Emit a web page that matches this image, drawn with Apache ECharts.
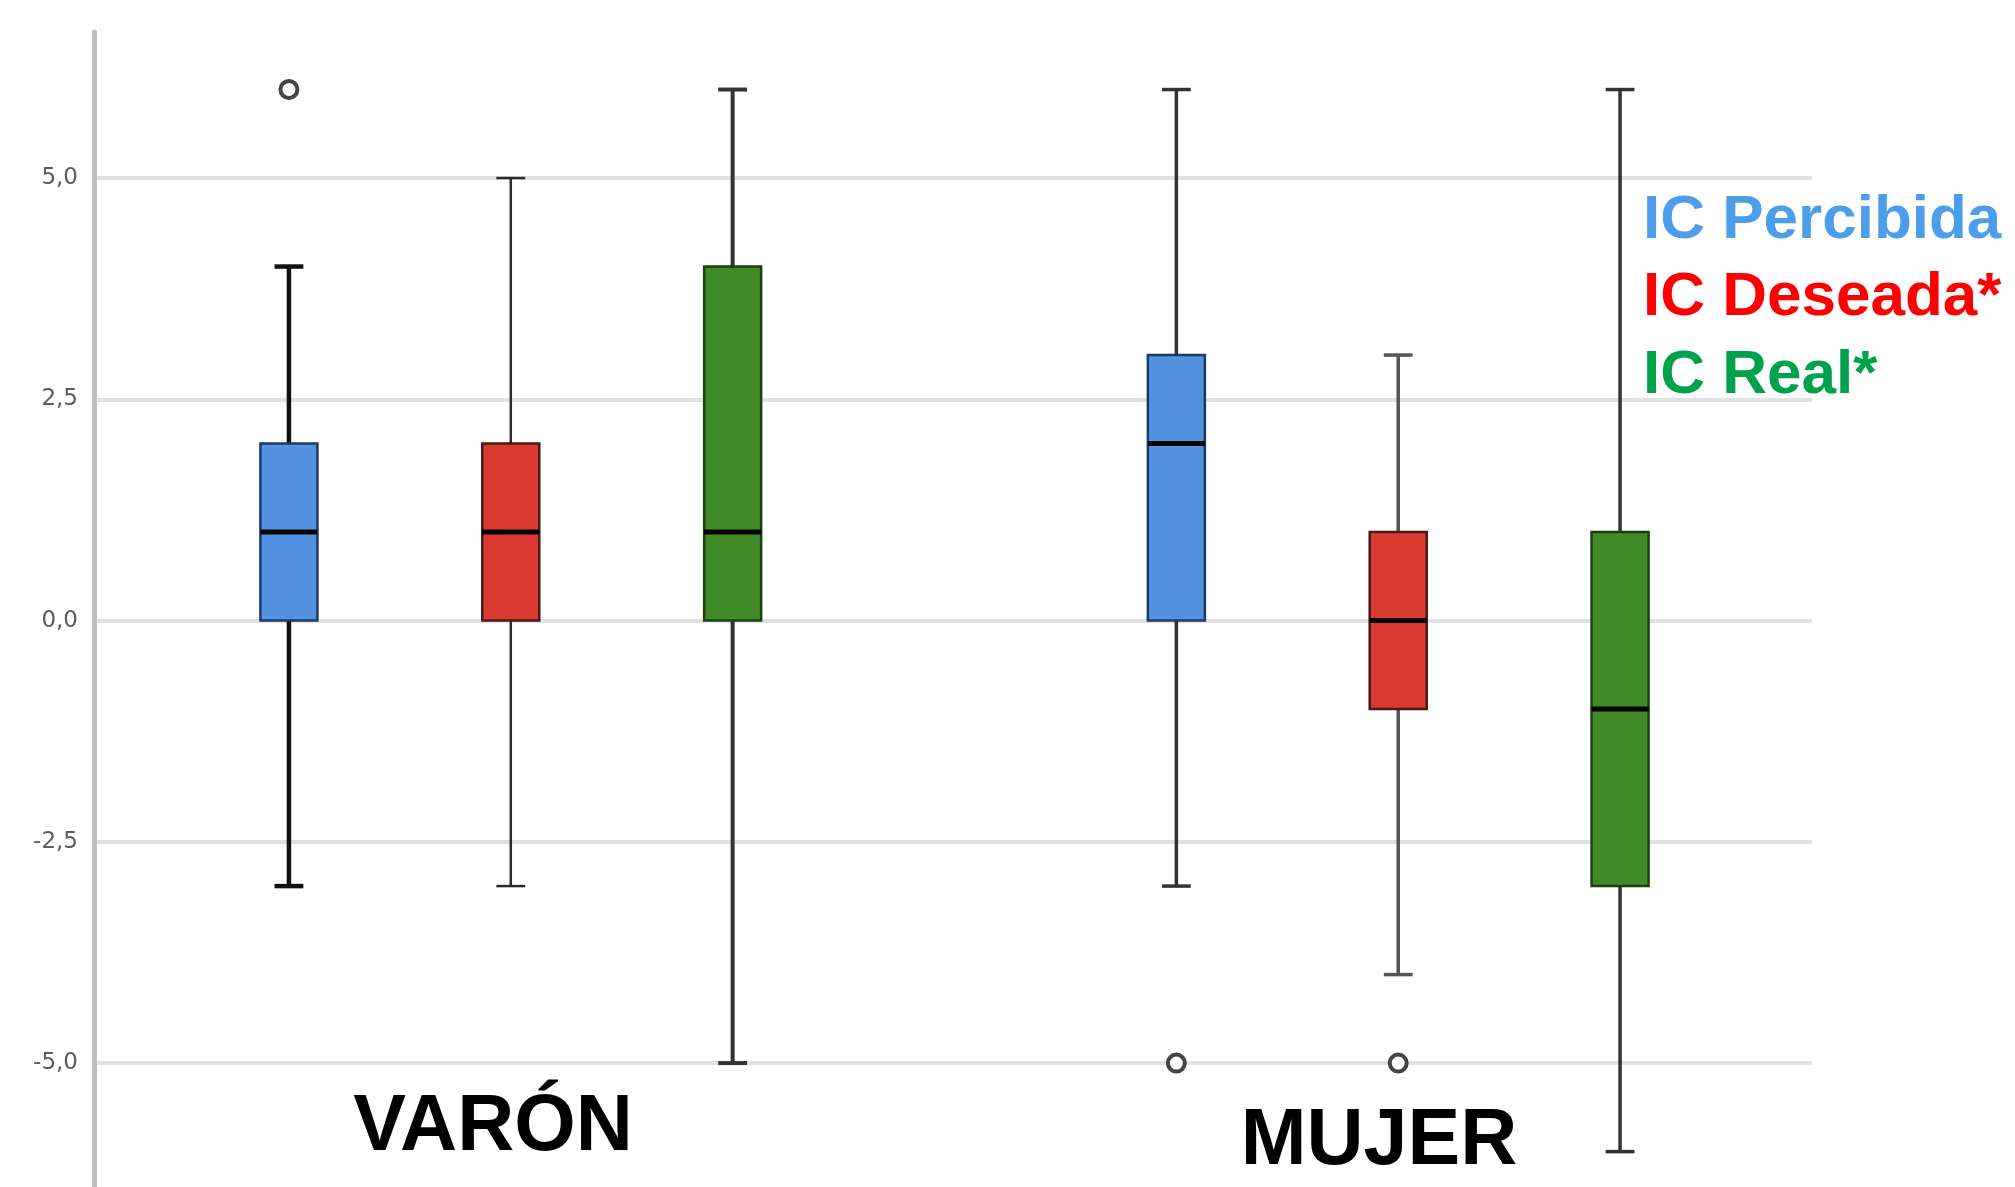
<!DOCTYPE html>
<html>
<head>
<meta charset="utf-8">
<script src="https://cdn.jsdelivr.net/npm/echarts@6/dist/echarts.min.js"></script>
<style>
html, body { margin: 0; padding: 0; background: #fff; }
#chart { width: 2015px; height: 1187px; }
</style>
</head>
<body>
<div id="chart"></div>
<script>
// category slots (slot 3 is the gap between the two groups)
var slots = ['V-Percibida', 'V-Deseada', 'V-Real', '', 'M-Percibida', 'M-Deseada', 'M-Real'];
var yTicks = [-5, -2.5, 0, 2.5, 5];
var yMin = -6.4, yMax = 6.65;

// [slot, min, q1, median, q3, max]
var percibida = [[0, -3, 0, 1, 2, 4], [4, -3, 0, 2, 3, 6]];
var deseada = [[1, -3, 0, 1, 2, 5], [5, -4, -1, 0, 1, 3]];
var real = [[2, -5, 0, 1, 4, 6], [6, -6, -3, -1, 1, 6]];
// [slot, value]
var outliers = [[0, 6], [4, -5], [5, -5]];

var groupLabels = ['VARÓN', 'MUJER'];
var legendLabels = ['IC Percibida', 'IC Deseada*', 'IC Real*'];

var chart = echarts.init(document.getElementById('chart'));

function boxRenderer(fill, border, whisker) {
    return function (params, api) {
        var x = api.value(0);
        var lo = api.coord([x, api.value(1)]);
        var q1 = api.coord([x, api.value(2)]);
        var med = api.coord([x, api.value(3)]);
        var q3 = api.coord([x, api.value(4)]);
        var hi = api.coord([x, api.value(5)]);
        var band = api.size([1, 0])[0];
        var bw = band * 0.257, cw = band * 0.13;
        var cx = lo[0];
        var ws = whisker[params.dataIndex];
        var wStyle = { stroke: ws.color, lineWidth: ws.width };
        return {
            type: 'group',
            children: [
                { type: 'line', shape: { x1: cx, y1: q3[1], x2: cx, y2: hi[1] }, style: wStyle },
                { type: 'line', shape: { x1: cx, y1: q1[1], x2: cx, y2: lo[1] }, style: wStyle },
                { type: 'line', shape: { x1: cx - cw / 2, y1: hi[1], x2: cx + cw / 2, y2: hi[1] }, style: wStyle },
                { type: 'line', shape: { x1: cx - cw / 2, y1: lo[1], x2: cx + cw / 2, y2: lo[1] }, style: wStyle },
                { type: 'rect', shape: { x: cx - bw / 2, y: q3[1], width: bw, height: q1[1] - q3[1] },
                  style: { fill: fill, stroke: border, lineWidth: 2.5 } },
                { type: 'line', shape: { x1: cx - bw / 2, y1: med[1], x2: cx + bw / 2, y2: med[1] },
                  style: { stroke: '#050505', lineWidth: 5 } }
            ]
        };
    };
}

function boxSeries(name, data, fill, border, whisker) {
    return {
        name: name,
        type: 'custom',
        xAxisIndex: 1,
        yAxisIndex: 1,
        encode: { x: 0, y: [1, 2, 3, 4, 5] },
        renderItem: boxRenderer(fill, border, whisker),
        data: data,
        z: 3
    };
}

var titleFont = 'bold 62px "Liberation Sans", Arial, sans-serif';
var groupFont = 'bold 79px "Liberation Sans", Arial, sans-serif';

option = {
    animation: false,
    backgroundColor: '#ffffff',
    grid: [
        { left: 94, width: 1718, top: 32, height: 1158 },
        { left: 178, width: 1553, top: 32, height: 1158 }
    ],
    xAxis: [
        { gridIndex: 0, type: 'value', min: 0, max: 1, show: false },
        { gridIndex: 1, type: 'category', data: slots, boundaryGap: true, show: false }
    ],
    yAxis: [
        {
            gridIndex: 0,
            type: 'value',
            min: yMin,
            max: yMax,
            axisLine: { show: true, onZero: false, lineStyle: { color: '#bdbdbd', width: 5 } },
            axisTick: { show: false, customValues: yTicks },
            axisLabel: {
                customValues: yTicks,
                margin: 16,
                color: '#5c5c5c',
                fontSize: 23,
                fontFamily: 'DejaVu Sans',
                formatter: function (v) { return v.toFixed(1).replace('.', ','); }
            },
            splitLine: { show: true, lineStyle: { color: '#e1e1e1', width: 4 } }
        },
        { gridIndex: 1, type: 'value', min: yMin, max: yMax, show: false, splitLine: { show: false } }
    ],
    graphic: [
        { type: 'text', x: 1643, y: 221, style: { text: legendLabels[0], font: titleFont, fill: '#4c9eea', align: 'left', verticalAlign: 'middle' } },
        { type: 'text', x: 1643, y: 298, style: { text: legendLabels[1], font: titleFont, fill: '#ff0000', align: 'left', verticalAlign: 'middle' } },
        { type: 'text', x: 1643, y: 376, style: { text: legendLabels[2], font: titleFont, fill: '#00a14b', align: 'left', verticalAlign: 'middle' } },
        { type: 'text', x: 493, y: 1128, style: { text: groupLabels[0], font: groupFont, fill: '#000', align: 'center', verticalAlign: 'middle' } },
        { type: 'text', x: 1379, y: 1142, style: { text: groupLabels[1], font: groupFont, fill: '#000', align: 'center', verticalAlign: 'middle' } }
    ],
    series: [
        boxSeries('IC Percibida', percibida, '#5292e1', '#1d3a66',
            [{ color: '#111', width: 4.5 }, { color: '#333', width: 3.5 }]),
        boxSeries('IC Deseada', deseada, '#da3932', '#4a1a16',
            [{ color: '#2a2a2a', width: 2.5 }, { color: '#555', width: 3.5 }]),
        boxSeries('IC Real', real, '#418a28', '#1e3f12',
            [{ color: '#333', width: 4 }, { color: '#333', width: 3.5 }]),
        {
            name: 'Atípicos',
            type: 'scatter',
            xAxisIndex: 1,
            yAxisIndex: 1,
            symbol: 'circle',
            symbolSize: 17,
            itemStyle: { color: '#fff', borderColor: '#444', borderWidth: 4, opacity: 1 },
            data: outliers,
            z: 4
        }
    ]
};

if (option && typeof option === 'object') {
    chart.setOption(option, true);
}
</script>
</body>
</html>
